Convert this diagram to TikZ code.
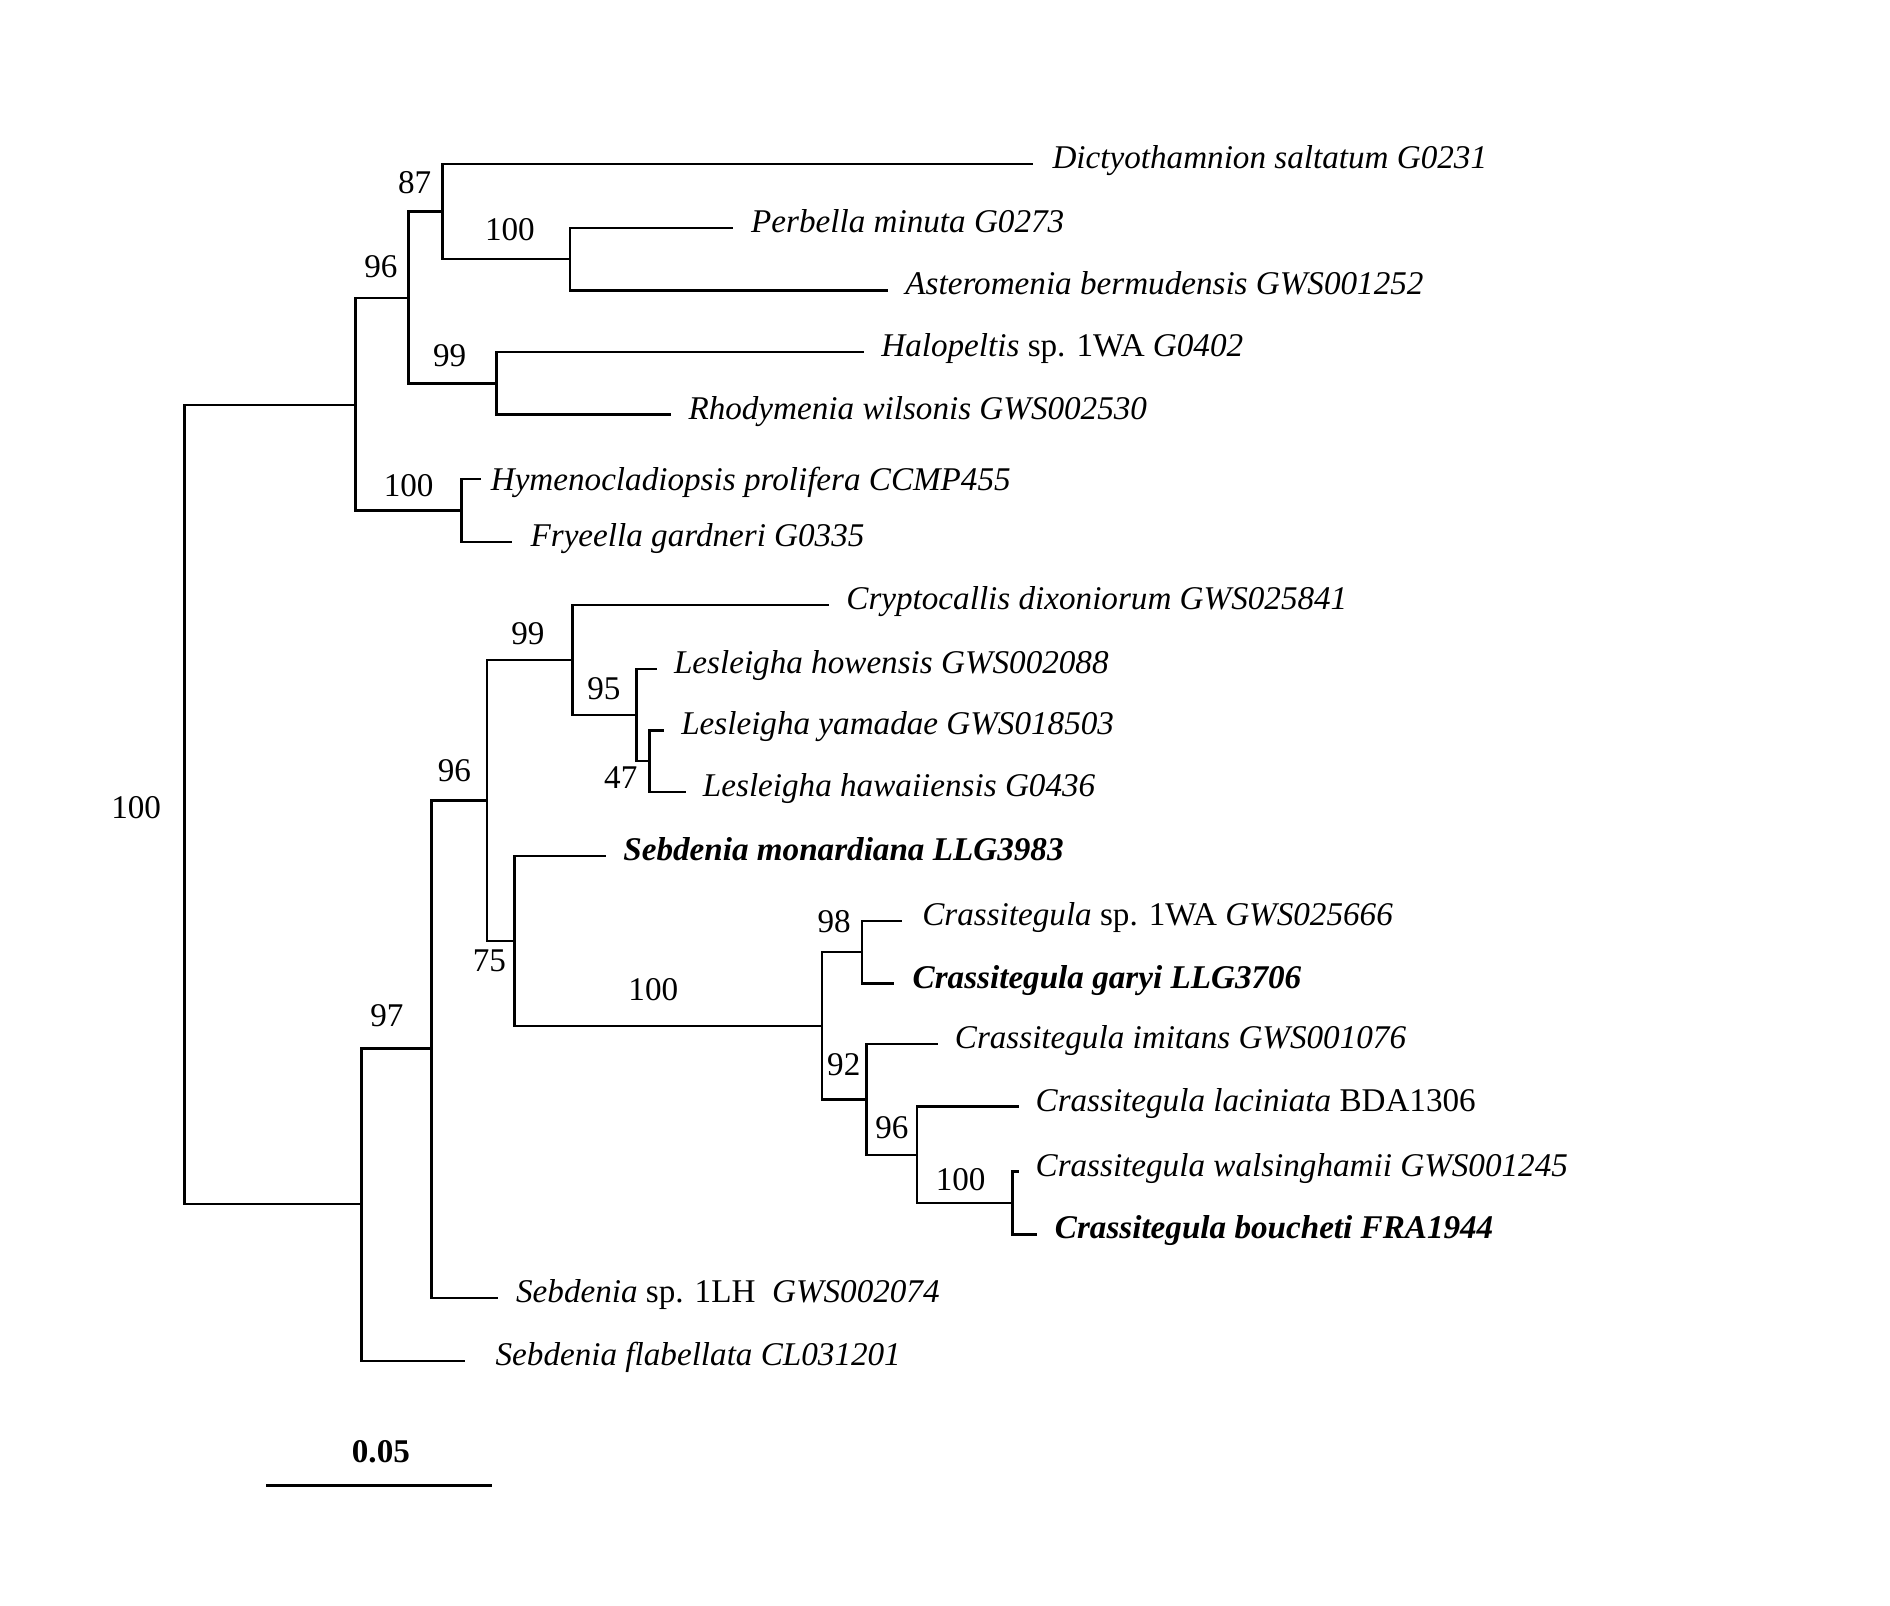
\documentclass[tikz,border=0pt]{standalone}
\usepackage{fontspec}
\setmainfont{Liberation Serif}
\begin{document}
\begin{tikzpicture}[x=1bp,y=-1bp,
  br/.style={line width=2bp, line join=miter},
  taxon/.style={anchor=west, inner sep=0pt, text height=0.75em, text depth=0pt, font=\fontsize{27.5bp}{33bp}\selectfont},
  supp/.style={anchor=center, inner sep=0pt, text height=0.66em, text depth=0pt, font=\fontsize{27.5bp}{33bp}\selectfont}]
\useasboundingbox (0,0) rectangle (1568,1332);
\newcommand{\tiptaxon}[6]{\coordinate (#1) at (#2,#3); \node[taxon] (#1l) at (#4,#5) {#6};}
% internal nodes
\coordinate (r) at (153,667);
\coordinate (A) at (295,336);
\coordinate (B) at (339,247);
\coordinate (C) at (367,175.5);
\coordinate (D) at (473,215);
\coordinate (E) at (412,318);
\coordinate (F) at (383,423.5);
\coordinate (G) at (300,999);
\coordinate (H) at (358,870);
\coordinate (I) at (404,664);
\coordinate (J) at (475,547.5);
\coordinate (K) at (528,593);
\coordinate (L) at (539,631.5);
\coordinate (M) at (427,780.5);
\coordinate (N) at (682,851);
\coordinate (O) at (715,790);
\coordinate (P) at (719,912);
\coordinate (Q) at (761,958);
\coordinate (R) at (840,998);
% tips
\tiptaxon{t1}{857}{136}{873}{136}{\textit{Dictyothamnion saltatum G0231}}
\tiptaxon{t2}{608}{189}{623}{189}{\textit{Perbella minuta G0273}}
\tiptaxon{t3}{737}{241}{751}{241}{\textit{Asteromenia bermudensis GWS001252}}
\tiptaxon{t4}{717}{292}{731}{292}{\textit{Halopeltis} sp. 1WA \textit{G0402}}
\tiptaxon{t5}{557}{344}{571}{344}{\textit{Rhodymenia wilsonis GWS002530}}
\tiptaxon{t6}{399}{397.5}{407}{403}{\textit{Hymenocladiopsis prolifera CCMP455}}
\tiptaxon{t7}{425}{449.5}{440}{449.5}{\textit{Fryeella gardneri G0335}}
\tiptaxon{t8}{688}{502}{702}{502}{\textit{Cryptocallis dixoniorum GWS025841}}
\tiptaxon{t9}{545}{555}{559}{555}{\textit{Lesleigha howensis GWS002088}}
\tiptaxon{t10}{551}{606}{565}{606}{\textit{Lesleigha yamadae GWS018503}}
\tiptaxon{t11}{569}{657}{583}{657}{\textit{Lesleigha hawaiiensis G0436}}
\tiptaxon{t12}{503}{710}{517}{710}{\textbf{\textit{Sebdenia monardiana LLG3983}}}
\tiptaxon{t13}{748}{764}{765}{764}{\textit{Crassitegula} sp. 1WA \textit{GWS025666}}
\tiptaxon{t14}{742}{816}{757}{816}{\textbf{\textit{Crassitegula garyi LLG3706}}}
\tiptaxon{t15}{778}{866}{792}{866}{\textit{Crassitegula imitans GWS001076}}
\tiptaxon{t16}{845}{918}{859}{918}{\textit{Crassitegula laciniata} BDA1306}
\tiptaxon{t17}{845}{972}{859}{972}{\textit{Crassitegula walsinghamii GWS001245}}
\tiptaxon{t18}{860}{1024}{875}{1024}{\textbf{\textit{Crassitegula boucheti FRA1944}}}
\tiptaxon{t19}{413}{1077}{428}{1077}{\textit{Sebdenia} sp. 1LH\ \ \textit{GWS002074}}
\tiptaxon{t20}{386}{1129}{411}{1129}{\textit{Sebdenia flabellata CL031201}}
% branches
\draw[br] (r) |- (A);
\draw[br] (r) |- (G);
\draw[br] (A) |- (B);
\draw[br] (A) |- (F);
\draw[br] (B) |- (C);
\draw[br] (B) |- (E);
\draw[br] (C) |- (t1);
\draw[br] (C) |- (D);
\draw[br] (D) |- (t2);
\draw[br] (D) |- (t3);
\draw[br] (E) |- (t4);
\draw[br] (E) |- (t5);
\draw[br] (F) |- (t6);
\draw[br] (F) |- (t7);
\draw[br] (G) |- (H);
\draw[br] (G) |- (t20);
\draw[br] (H) |- (I);
\draw[br] (H) |- (t19);
\draw[br] (I) |- (J);
\draw[br] (I) |- (M);
\draw[br] (J) |- (t8);
\draw[br] (J) |- (K);
\draw[br] (K) |- (t9);
\draw[br] (K) |- (L);
\draw[br] (L) |- (t10);
\draw[br] (L) |- (t11);
\draw[br] (M) |- (t12);
\draw[br] (M) |- (N);
\draw[br] (N) |- (O);
\draw[br] (N) |- (P);
\draw[br] (O) |- (t13);
\draw[br] (O) |- (t14);
\draw[br] (P) |- (t15);
\draw[br] (P) |- (Q);
\draw[br] (Q) |- (t16);
\draw[br] (Q) |- (R);
\draw[br] (R) |- (t17);
\draw[br] (R) |- (t18);
% support values
\node[supp] (s0) at (113,676) {100};
\node[supp] (s1) at (316,227) {96};
\node[supp] (s2) at (344,157) {87};
\node[supp] (s3) at (423,196) {100};
\node[supp] (s4) at (373,301) {99};
\node[supp] (s5) at (339,409) {100};
\node[supp] (s6) at (321,848) {97};
\node[supp] (s7) at (377,645) {96};
\node[supp] (s8) at (438,531) {99};
\node[supp] (s9) at (501,577) {95};
\node[supp] (s10) at (515,651) {47};
\node[supp] (s11) at (406,803) {75};
\node[supp] (s12) at (542,827) {100};
\node[supp] (s13) at (692,770) {98};
\node[supp] (s14) at (700,889) {92};
\node[supp] (s15) at (740,941) {96};
\node[supp] (s16) at (797,984) {100};
% scale bar
\coordinate (sb1) at (221,1232);
\coordinate (sb2) at (408,1232);
\draw[line width=2.5bp] (sb1) -- (sb2);
\node[supp, font=\fontsize{27.5bp}{33bp}\selectfont\bfseries] (sbl) at (316,1210) {0.05};
\end{tikzpicture}
\end{document}
